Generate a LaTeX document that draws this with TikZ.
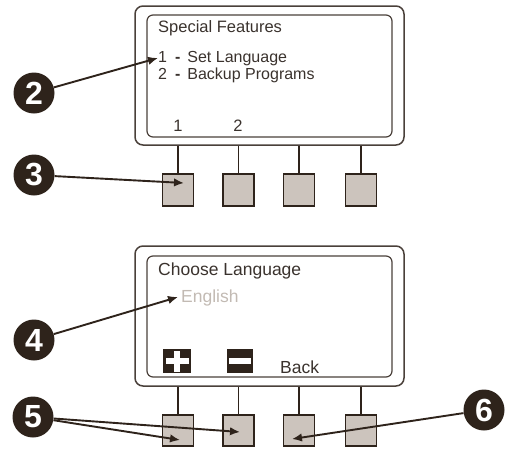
\documentclass[tikz,border=0pt]{standalone}
\usepackage{fontspec}
\setmainfont{Liberation Sans}
\usetikzlibrary{arrows.meta}
\definecolor{ink}{HTML}{2E231B}
\definecolor{rim}{HTML}{4A403A}
\definecolor{lcd}{HTML}{3A322D}
\definecolor{keyfill}{HTML}{CCC4BD}
\definecolor{dim}{HTML}{C2BAB3}

\begin{document}
\begin{tikzpicture}[x=1pt,y=-1pt,
  frame/.style={draw=rim, line width=1.5pt, rounded corners=8pt, inner sep=0pt},
  screen/.style={draw=rim, line width=1.2pt, rounded corners=6pt, inner sep=0pt},
  key/.style={draw=ink, fill=keyfill, line width=1.3pt, minimum width=31pt,
              minimum height=32pt, inner sep=0pt},
  stem/.style={draw=ink, line width=1.2pt},
  toptext/.style={anchor=base west, inner sep=0pt, text=lcd,
                  font=\fontsize{16.5}{18}\selectfont},
  bottext/.style={anchor=base west, inner sep=0pt, text=lcd,
                  font=\fontsize{17.5}{19}\selectfont},
  badge/.style={circle, fill=ink, minimum size=41pt, inner sep=0pt, text=white,
                font=\fontsize{32}{32}\selectfont\bfseries},
  callout/.style={draw=ink, line width=1.9pt, -{Latex[length=10pt,width=8.5pt]}},
]
\useasboundingbox (0,0) rectangle (506,448);

% ---------- upper unit: Special Features menu ----------
\node[frame, minimum width=269pt, minimum height=139pt] (dev1) at (269.5,75.5) {};
\node[screen, minimum width=245pt, minimum height=122pt] (scr1) at (269.5,76) {};

\node[toptext] (t1title) at (158,32) {Special Features};
\node[toptext, font=\fontsize{16}{18}\selectfont] (t1line1) at (158,62.5) {1\hspace{8pt}\textbf{-}\hspace{7pt}Set Language};
\node[toptext, font=\fontsize{16}{18}\selectfont] (t1line2) at (158,79) {2\hspace{8pt}\textbf{-}\hspace{7pt}Backup Programs};
\node[toptext, anchor=base] (t1soft1) at (178,131) {1};
\node[toptext, anchor=base] (t1soft2) at (238,131) {2};

\node[key] (k1) at (178,190) {};
\node[key] (k2) at (238.5,190) {};
\node[key] (k3) at (299,190) {};
\node[key] (k4) at (361,190) {};
\foreach \k in {k1,k2,k3,k4}
  \draw[stem] (\k.north) -- (\k.north |- dev1.south);

% ---------- lower unit: Choose Language menu ----------
\node[frame, minimum width=269pt, minimum height=140pt] (dev2) at (269.5,316) {};
\node[screen, minimum width=245pt, minimum height=121pt] (scr2) at (269.5,316.5) {};

\node[bottext] (t2title) at (158,275) {Choose Language};
\node[bottext, text=dim] (t2lang) at (181,302) {English};
\node[bottext] (t2back) at (280,373) {Back};

% plus and minus soft-key icons
\node[fill=ink, minimum width=28pt, minimum height=24pt, inner sep=0pt] (plus) at (177,361) {};
\fill[white] ([xshift=-2.6pt,yshift=-2pt]plus.north) rectangle ([xshift=2.6pt,yshift=1pt]plus.south);
\fill[white] ([xshift=3pt,yshift=-2.6pt]plus.west) rectangle ([xshift=-2pt,yshift=2.6pt]plus.east);
\node[fill=ink, minimum width=26pt, minimum height=24pt, inner sep=0pt] (minus) at (240,361) {};
\fill[white] ([xshift=2pt,yshift=-2.8pt]minus.west) rectangle ([xshift=-2pt,yshift=2.8pt]minus.east);

\node[key, minimum height=31pt] (b1) at (178,430.5) {};
\node[key, minimum height=31pt] (b2) at (238.5,430.5) {};
\node[key, minimum height=31pt] (b3) at (299,430.5) {};
\node[key, minimum height=31pt] (b4) at (361,430.5) {};
\foreach \k in {b1,b2,b3,b4}
  \draw[stem] (\k.north) -- (\k.north |- dev2.south);

% ---------- numbered callouts ----------
\node[badge] (m2) at (34,93) {2};
\node[badge] (m3) at (34,175) {3};
\node[badge] (m4) at (34,340) {4};
\node[badge] (m5) at (33,417) {5};
\node[badge] (m6) at (484,410) {6};

\coordinate (p2) at (158,58);
\coordinate (p3) at (184,183);
\coordinate (p4) at (178,297);
\coordinate (p5a) at (180,440);
\coordinate (p5b) at (240,432);
\coordinate (p6) at (292,439);

\draw[callout] (m2) -- (p2);
\draw[callout] (m3) -- (p3);
\draw[callout] (m4) -- (p4);
\draw[callout] (m5) -- (p5a);
\draw[callout] (m5) -- (p5b);
\draw[callout] (m6) -- (p6);
\end{tikzpicture}
\end{document}
